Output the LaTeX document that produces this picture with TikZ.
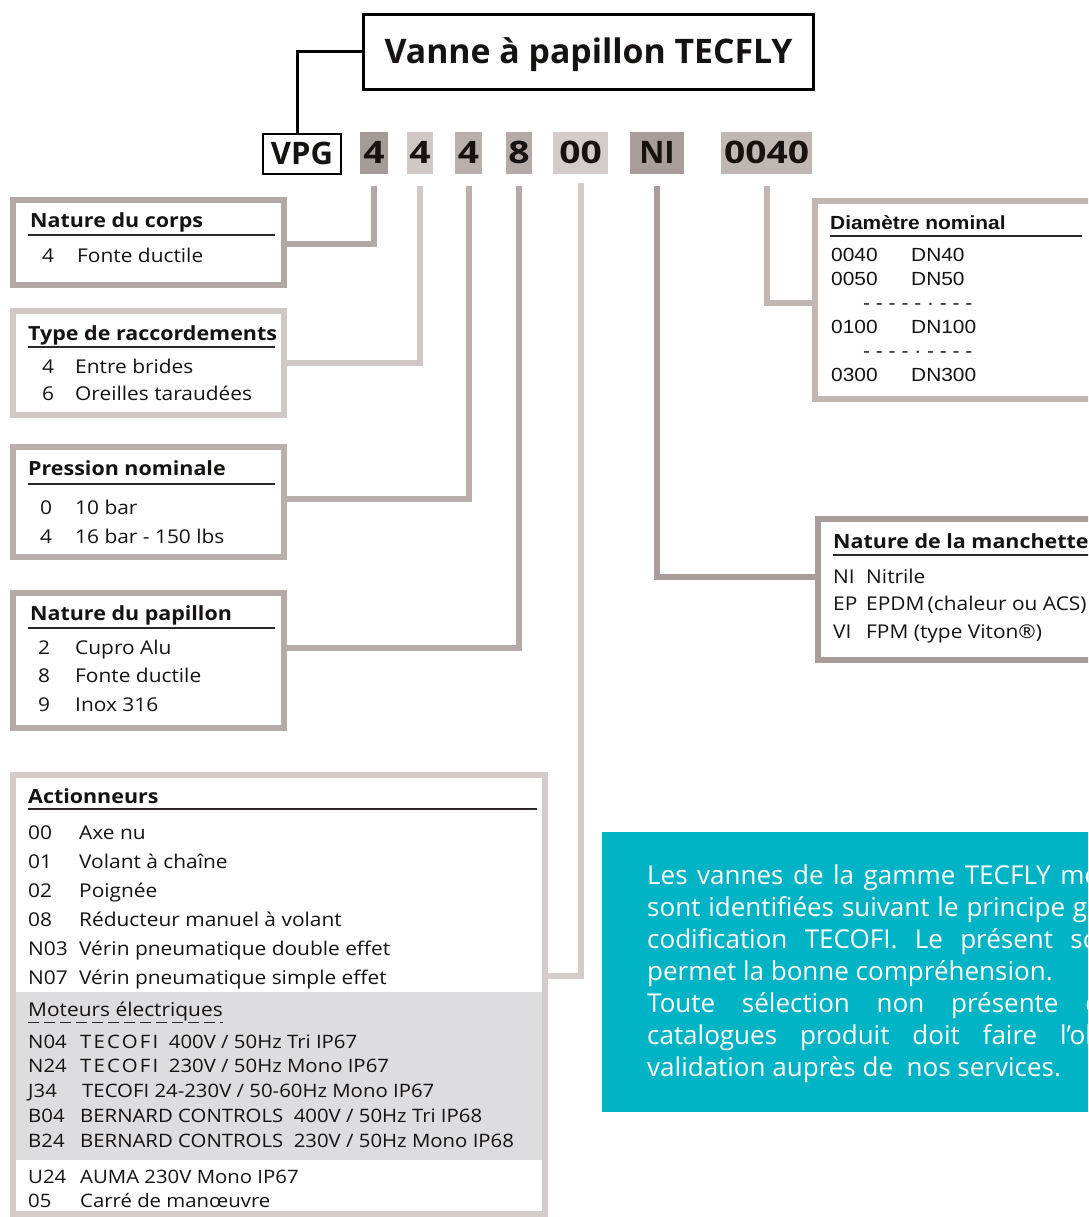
\documentclass[tikz,border=0pt]{standalone}
\usepackage{fontspec}
\setmainfont{Open Sans}
\newfontfamily\listfont[FakeStretch=1.1]{Open Sans}
\newfontfamily\digitfont[FakeStretch=1.2]{Open Sans}
\newfontfamily\arialfont[FakeStretch=1.1]{Liberation Sans}
\usepackage{xcolor}
\definecolor{rulegray}{RGB}{45,40,40}
\definecolor{inkdark}{RGB}{22,18,18}
\definecolor{bandgray}{RGB}{221,221,223}
\definecolor{tealnote}{RGB}{0,180,197}
\definecolor{corpsC}{RGB}{178,168,166}
\definecolor{raccC}{RGB}{208,200,198}
\definecolor{pressC}{RGB}{185,176,174}
\definecolor{papC}{RGB}{180,171,169}
\definecolor{actC}{RGB}{211,204,202}
\definecolor{manC}{RGB}{168,157,155}
\definecolor{diaC}{RGB}{192,183,181}

\begin{document}
\begin{tikzpicture}[
    x=1pt, y=-1pt,
    boxframe/.style={
        draw,
        line width=6pt,
        anchor=north west,
        inner sep=0pt
    },
    codebox/.style={
        anchor=north west,
        minimum height=42pt,
        inner sep=0pt,
        outer sep=0pt,
        text height=22pt,
        text depth=0pt,
        text=inkdark,
        font=\digitfont\bfseries\fontsize{31}{31}\selectfont
    },
    link/.style={line width=6pt},
    headtext/.style={
        anchor=base west,
        inner sep=0pt,
        text=inkdark,
        font=\listfont\bfseries\fontsize{19.5}{19.5}\selectfont
    },
    itemlist/.style={
        anchor=base west,
        inner sep=0pt,
        text=inkdark,
        font=\listfont\fontsize{19}{29}\selectfont
    },
    headrule/.style={line width=1.2pt, draw=rulegray}
]

\useasboundingbox (0,0) rectangle (1088,1217);
\clip (0,0) rectangle (1088,1217);
\fill[white] (0,0) rectangle (1088,1217);

% Title and code row
\node[draw, line width=3pt, anchor=north west, minimum width=450pt, minimum height=75pt,
      inner sep=0pt, text height=24pt, text depth=0pt, text=inkdark,
      font=\bfseries\fontsize{33.8}{33.8}\selectfont] (title) at (362,13) {Vanne à papillon TECFLY};

\node[draw, line width=2pt, anchor=north west, minimum width=78pt, minimum height=40pt,
      inner sep=0pt, text height=22pt, text depth=0pt, text=inkdark,
      font=\bfseries\fontsize{31}{31}\selectfont] (vpg) at (262,133) {VPG};

\draw[line width=3pt] (title.west) -| ([xshift=-5pt]vpg.north);

\node[codebox, fill=corpsC!92!black, minimum width=28pt] (cCorps) at (360,132) {4};
\node[codebox, fill=raccC, minimum width=26pt] (cRacc) at (407,132) {4};
\node[codebox, fill=pressC, minimum width=27pt] (cPress) at (455,132) {4};
\node[codebox, fill=papC, minimum width=26pt] (cPap) at (506,132) {8};
\node[codebox, fill=actC, minimum width=55pt] (cAct) at (553,132) {00};
\node[codebox, fill=manC, font=\bfseries\fontsize{31}{31}\selectfont, minimum width=54pt] (cMan) at (630,132) {NI};
\node[codebox, fill=diaC, minimum width=91pt] (cDia) at (721,132) {0040};

% Left column
\node[boxframe, draw=corpsC, minimum width=271pt, minimum height=85pt] (corps) at (10,197) {};
\node[headtext] (corpsHead) at (30,227) {Nature du corps};
\draw[headrule] (28,235) -- (275,235);
\node[itemlist] (corpsList) at (42,262) {\begin{tabular}[t]{@{}p{35pt}@{}l@{}}
4 & Fonte ductile
\end{tabular}};

\node[boxframe, draw=raccC, minimum width=271pt, minimum height=104pt] (racc) at (10,308) {};
\node[headtext] (raccHead) at (28,340) {Type de raccordements};
\draw[headrule] (28,347) -- (275,347);
\node[itemlist, font=\listfont\fontsize{19}{27}\selectfont] (raccList) at (42,373) {\begin{tabular}[t]{@{}p{33pt}@{}l@{}}
4 & Entre brides\\
6 & Oreilles taraudées
\end{tabular}};

\node[boxframe, draw=pressC, minimum width=271pt, minimum height=110pt] (press) at (10,444) {};
\node[headtext] (pressHead) at (28,475) {Pression nominale};
\draw[headrule] (28,484) -- (275,484);
\node[itemlist] (pressList) at (40,514) {\begin{tabular}[t]{@{}p{35pt}@{}l@{}}
0 & 10 bar\\
4 & 16 bar - 150 lbs
\end{tabular}};

\node[boxframe, draw=papC, minimum width=271pt, minimum height=135pt] (pap) at (10,590) {};
\node[headtext] (papHead) at (30,620) {Nature du papillon};
\draw[headrule] (28,628) -- (275,628);
\node[itemlist, font=\listfont\fontsize{19}{28.5}\selectfont] (papList) at (38,654) {\begin{tabular}[t]{@{}p{37pt}@{}l@{}}
2 & Cupro Alu\\
8 & Fonte ductile\\
9 & Inox 316
\end{tabular}};

% Actionneurs
\node[boxframe, draw=actC, minimum width=532pt, minimum height=439pt] (act) at (10,772) {};
\fill[bandgray] (16,992) rectangle (542,1160);
\node[headtext] (actHead) at (28,803) {Actionneurs};
\draw[headrule] (28,809) -- (537,809);
\node[itemlist, font=\listfont\fontsize{19}{29}\selectfont] (actList) at (28,839) {\begin{tabular}[t]{@{}p{51pt}@{}l@{}}
00 & Axe nu\\
01 & Volant à chaîne\\
02 & Poignée\\
08 & Réducteur manuel à volant\\
N03 & Vérin pneumatique double effet\\
N07 & Vérin pneumatique simple effet
\end{tabular}};
\node[itemlist, font=\listfont\fontsize{19}{19}\selectfont] (motHead) at (28,1016) {Moteurs électriques};
\draw[rulegray, line width=1.2pt, dash pattern=on 11pt off 5pt]
    ([yshift=-2pt]motHead.south west) -- ([yshift=-2pt]motHead.south east);
\node[itemlist, font=\listfont\fontsize{18.5}{24.8}\selectfont] (motList) at (28,1048) {\begin{tabular}[t]{@{}p{52pt}@{}l@{}}
N04 & {\addfontfeature{LetterSpace=12}TECOFI}\ \ 400V / 50Hz Tri IP67\\
N24 & {\addfontfeature{LetterSpace=12}TECOFI}\ \ 230V / 50Hz Mono IP67\\
J34 & \hspace{2pt}TECOFI 24-230V / 50-60Hz Mono IP67\\
B04 & BERNARD CONTROLS\ \ 400V / 50Hz Tri IP68\\
B24 & BERNARD CONTROLS\ \ 230V / 50Hz Mono IP68
\end{tabular}};
\node[itemlist, font=\listfont\fontsize{18.5}{24}\selectfont] (autreList) at (28,1183) {\begin{tabular}[t]{@{}p{52pt}@{}l@{}}
U24 & AUMA 230V Mono IP67\\
05 & Carré de manœuvre
\end{tabular}};

% Right column
\node[boxframe, draw=diaC, minimum width=302pt, minimum height=198pt] (dia) at (812,198) {};
\node[anchor=base west, inner sep=0pt, text=inkdark,
      font=\arialfont\bfseries\fontsize{19}{19}\selectfont] (diaHead) at (830,229) {Diamètre nominal};
\draw[headrule] (830,236) -- (1082,236);
\node[anchor=base west, inner sep=0pt, text=inkdark,
      font=\arialfont\fontsize{19}{24}\selectfont] (diaList) at (831,261) {\begin{tabular}[t]{@{}p{80pt}@{}l@{}}
0040 & DN40\\
0050 & DN50\\
\multicolumn{2}{@{}l@{}}{\hspace{32pt}- - - - - · - - -}\\
0100 & DN100\\
\multicolumn{2}{@{}l@{}}{\hspace{32pt}- - - - · - - - -}\\
0300 & DN300
\end{tabular}};

\node[boxframe, draw=manC, minimum width=299pt, minimum height=141pt] (man) at (815,516) {};
\node[headtext] (manHead) at (833,548) {Nature de la manchette};
\draw[headrule] (833,555) -- (1100,555);
\node[itemlist, font=\listfont\fontsize{19}{27.5}\selectfont] (manList) at (833,583) {\begin{tabular}[t]{@{}p{33pt}@{}l@{}}
NI & Nitrile\\
EP & EPDM\,(chaleur ou ACS)\\
VI & FPM (type Viton®)
\end{tabular}};

% Note
\node[fill=tealnote, anchor=north west, minimum width=500pt, minimum height=280pt,
      inner sep=0pt, outer sep=0pt] (note) at (602,832) {};
\node[anchor=base west, inner sep=0pt, text=white,
      font=\fontsize{26}{32}\selectfont] (noteText) at (647,884) {\begin{tabular}[t]{@{}l@{}}
\makebox[453pt][s]{Les vannes de la gamme TECFLY mo}\\
\makebox[440pt][s]{sont identifiées suivant le principe g}\\
\makebox[448pt][s]{codification TECOFI. Le présent sc}\\
permet la bonne compréhension.\\
\makebox[454pt][s]{Toute sélection non présente d}\\
\makebox[454pt][s]{catalogues produit doit faire l’ob}\\
validation auprès de\ \ nos services.
\end{tabular}};

% Connectors
\draw[link, corpsC] (cCorps.south) ++(0,12) |- (corps.east |- 0,244);
\draw[link, raccC] (cRacc.south) ++(0,12) |- (racc.east |- 0,363);
\draw[link, pressC] (cPress.south) ++(0,12) |- (press.east |- 0,499);
\draw[link, papC] (cPap.south) ++(0,12) |- (pap.east |- 0,648);
\draw[link, actC] (cAct.south) ++(0,9) |- (act.east |- 0,976);
\draw[link, manC] (cMan.south) ++(0,12) |- (man.west |- 0,577);
\draw[link, diaC] (cDia.south) ++(0,12) |- (dia.west |- 0,303);

\end{tikzpicture}
\end{document}
